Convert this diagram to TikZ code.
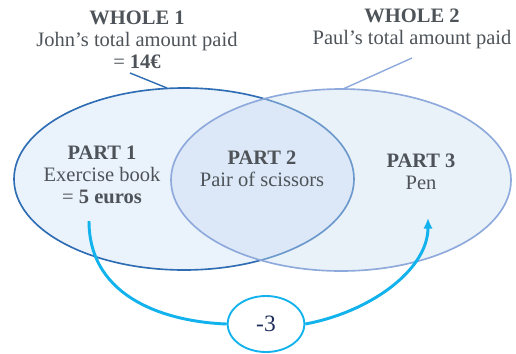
\documentclass[tikz,border=0pt]{standalone}
\usepackage{fontspec}
\setmainfont{Liberation Serif}
\usetikzlibrary{arrows.meta,shapes.geometric}
\definecolor{txtgray}{HTML}{4D5358}
\definecolor{setfill}{HTML}{EAF2FB}
\definecolor{setdark}{HTML}{2E6DB3}
\definecolor{setlight}{HTML}{8EA9DB}
\definecolor{setmix}{HTML}{C9DBF1}
\definecolor{flow}{HTML}{12B2EC}
\definecolor{navy}{HTML}{1F2D5A}
\tikzset{
  label text/.style={text=txtgray,align=center,font=\fontsize{17.5}{18.8}\selectfont},
  flow line/.style={draw=flow,line width=2.5pt},
}
\begin{document}
\begin{tikzpicture}[x=0.03cm,y=-0.03cm]
 \useasboundingbox (0,0) rectangle (516,353);
 % the two sets
 \draw[fill=setfill,draw=setdark,line width=1.4pt] (184,179) ellipse (170 and 91);
 \draw[fill=setmix,fill opacity=0.4,draw=setlight,line width=1.4pt] (341,180) ellipse (170 and 91);
 % pointers to the wholes
 \coordinate (w1end) at (167,88);
 \coordinate (w2end) at (343,89);
 \node[label text] (whole1) at (137,40) {\textbf{WHOLE 1}\\John’s total amount paid\\= \textbf{14€}};
 \node[label text] (whole2) at (412,29) {\textbf{WHOLE 2}\\Paul’s total amount paid};
 \coordinate (w1start) at (130,73);
 \coordinate (w2start) at (412,58);
 \draw[setdark,line width=1.2pt] (w1start) -- (w1end);
 \draw[setlight,line width=1.2pt] (w2start) -- (w2end);
 % parts
 \node[label text] (part1) at (102,175) {\textbf{PART 1}\\Exercise book\\= \textbf{5 euros}};
 \node[label text] (part2) at (262,169) {\textbf{PART 2}\\Pair of scissors};
 \node[label text] (part3) at (421,172) {\textbf{PART 3}\\Pen};
 % difference
 \node[ellipse,draw=flow,line width=1.6pt,fill=white,minimum width=2.3cm,minimum height=1.68cm,
   text=navy,font=\fontsize{20}{22}\selectfont] (diff) at (266,324) {-3};
 \coordinate (flowstart) at (89,221);
 \coordinate (flowend) at (428,218);
 \draw[flow line] (flowstart) .. controls (89,300) and (170,322) .. (diff.west);
 \draw[flow line,-{Latex[length=9pt,width=8pt]}] (diff.east) .. controls (370,312) and (428,270) .. (flowend);
\end{tikzpicture}
\end{document}
